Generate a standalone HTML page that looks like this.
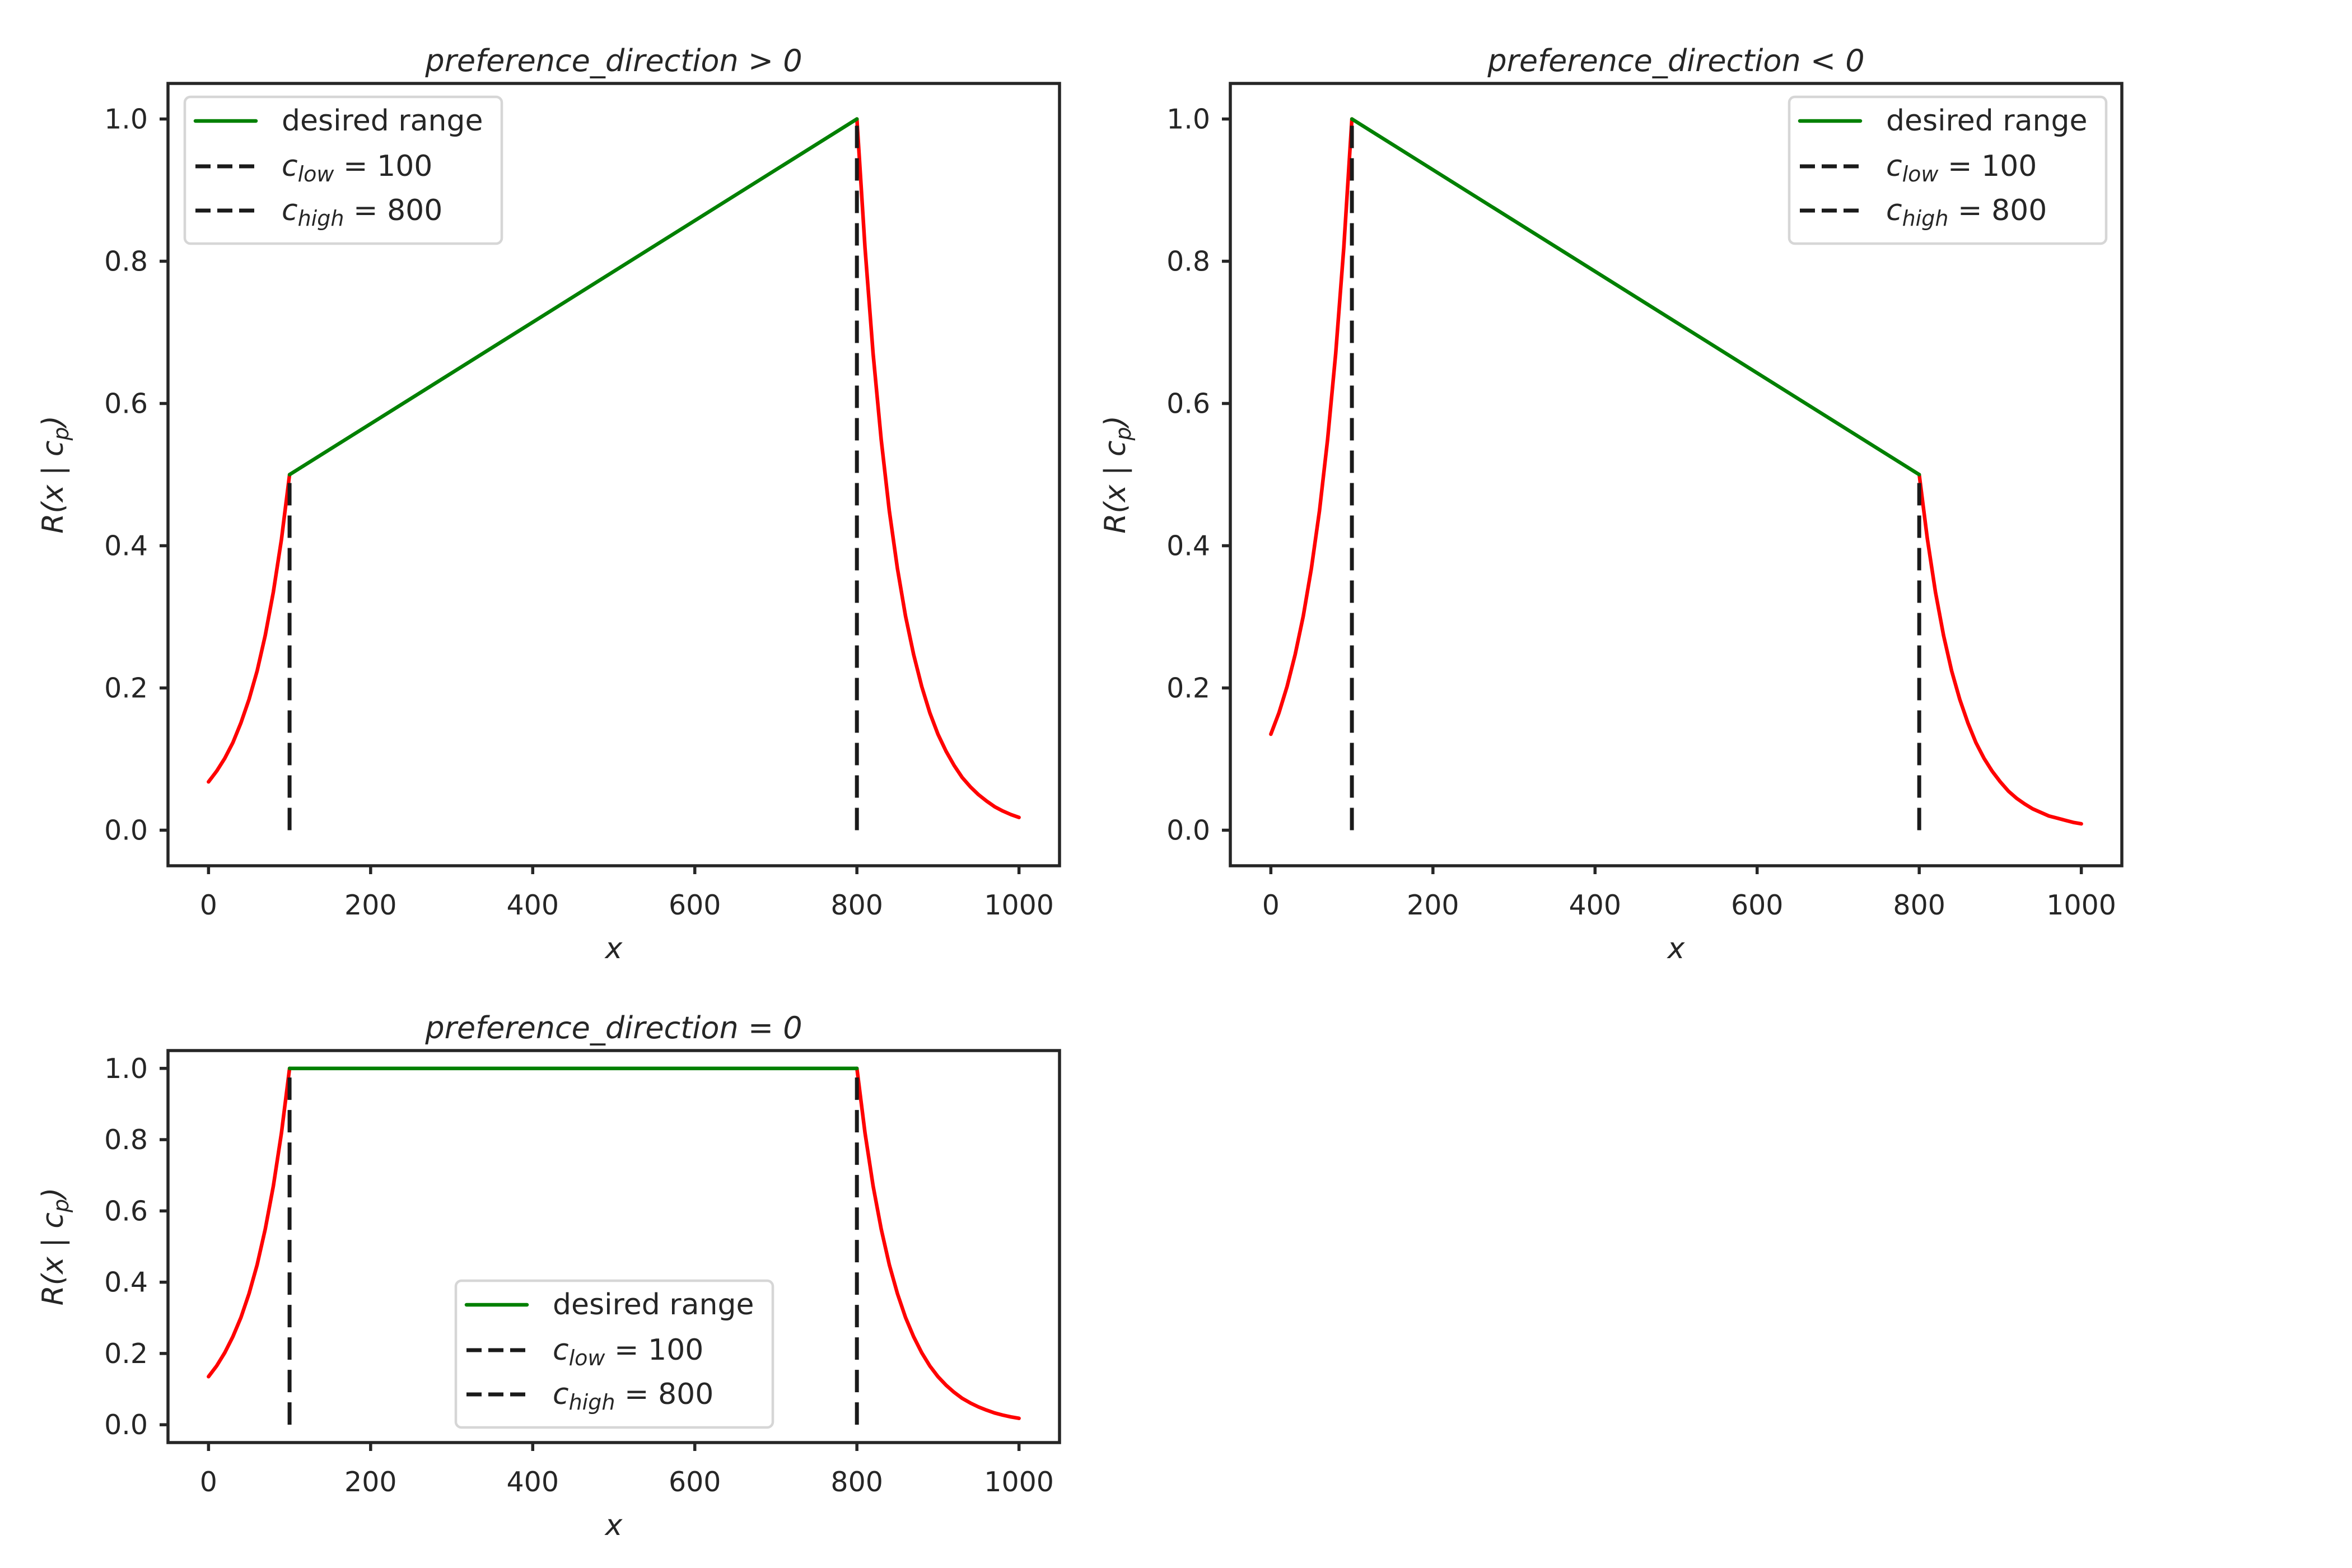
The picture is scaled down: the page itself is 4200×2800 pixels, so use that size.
<!DOCTYPE html>
<html><head><meta charset="utf-8"><style>
html,body{margin:0;padding:0;background:#fff;}
svg{display:block;font-family:"DejaVu Sans","Liberation Sans",sans-serif;}
</style></head><body>
<svg id="chart" width="4200" height="2800" viewBox="0 0 4200 2800" xmlns="http://www.w3.org/2000/svg"></svg>
<script>
const xTicks = [0,200,400,600,800,1000];
const yTicks1 = [0.0,0.2,0.4,0.6,0.8,1.0];
const yTicks3 = [0.0,0.2,0.4,0.6,0.8,1.0];
const leftX = [0,10,20,30,40,50,60,70,80,90,100];
const rightX = [800,810,820,830,840,850,860,870,880,890,900,910,920,930,940,950,960,970,980,990,1000];
const p1Left = [0.068,0.083,0.101,0.123,0.151,0.184,0.224,0.274,0.335,0.409,0.5];
const p1Right = [1,0.819,0.670,0.549,0.449,0.368,0.301,0.247,0.202,0.165,0.135,0.111,0.091,0.074,0.061,0.050,0.041,0.033,0.027,0.022,0.018];
const p2Left = [0.135,0.165,0.202,0.247,0.301,0.368,0.449,0.549,0.670,0.819,1];
const p2Right = [0.5,0.41,0.335,0.274,0.224,0.184,0.151,0.123,0.101,0.083,0.068,0.055,0.045,0.037,0.030,0.025,0.020,0.017,0.014,0.011,0.009];
const p3Left = [0.135,0.165,0.202,0.247,0.301,0.368,0.449,0.549,0.670,0.819,1];
const p3Right = [1,0.819,0.670,0.549,0.449,0.368,0.301,0.247,0.202,0.165,0.135,0.111,0.091,0.074,0.061,0.050,0.041,0.033,0.027,0.022,0.018];
const cLow = 100, cHigh = 800;
const green1 = [0.5,1], green2 = [1,0.5], green3 = [1,1];

const NS='http://www.w3.org/2000/svg';
const svg=document.getElementById('chart');
const TC='#262626';
function mk(tag,attrs,parent){const e=document.createElementNS(NS,tag);for(const k in attrs)e.setAttribute(k,attrs[k]);(parent||svg).appendChild(e);return e;}

function panel(id,L,R,T,B,title,ys,lv,rv,gv,legend,ylabelX){
  const g=mk('g',{});
  
  
  const X=v=>L+(v+50)/1100*(R-L);
  const Y=v=>B-(v+0.05)/1.1*(B-T);
  xTicks.forEach(t=>{
    const l=mk('line',{x1:X(t),x2:X(t),y1:B,y2:B+15,stroke:TC,'stroke-width':5.5},g);
    
    
    const tx=mk('text',{x:X(t),y:B+87,'font-size':49,fill:TC,'text-anchor':'middle'},g);
    
    
    tx.textContent=t;
  });
  ys.forEach(t=>{
    const l=mk('line',{x1:L-15,x2:L,y1:Y(t),y2:Y(t),stroke:TC,'stroke-width':5.5},g);
    
    
    const tx=mk('text',{x:L-36,y:Y(t)+17,'font-size':49,fill:TC,'text-anchor':'end'},g);
    
    
    tx.textContent=t.toFixed(1);
  });
  [[leftX,lv],[rightX,rv]].forEach(([xs,vs])=>{
    const p=mk('polyline',{points:xs.map((x,i)=>X(x)+','+Y(vs[i])).join(' '),fill:'none',stroke:'#ff0000','stroke-width':6.5,'stroke-linecap':'round','stroke-linejoin':'round'},g);
    
    
  });
  const gl=mk('line',{x1:X(cLow),y1:Y(gv[0]),x2:X(cHigh),y2:Y(gv[1]),stroke:'#008000','stroke-width':6.5,'stroke-linecap':'round'},g);
  
  
  const d1=mk('line',{x1:X(cLow),y1:Y(0),x2:X(cLow),y2:Y(gv[0]),stroke:'#1a1a1a','stroke-width':7,'stroke-dasharray':'40 18'},g);
  
  
  const d2=mk('line',{x1:X(cHigh),y1:Y(0),x2:X(cHigh),y2:Y(gv[1]),stroke:'#1a1a1a','stroke-width':7,'stroke-dasharray':'40 18'},g);
  
  
  const fr=mk('rect',{x:L,y:T,width:R-L,height:B-T,fill:'none',stroke:TC,'stroke-width':5.5},g);
  
  
  const ti=mk('text',{x:(L+R)/2,y:T-22,'font-size':54,fill:TC,'text-anchor':'middle','font-style':'italic'},g);
  
  
  ti.textContent=title;
  const xl=mk('text',{x:(L+R)/2,y:B+165,'font-size':52,fill:TC,'text-anchor':'middle','font-style':'italic'},g);
  
  
  xl.textContent='x';
  const cy=(T+B)/2;
  const yl=mk('text',{x:ylabelX,y:cy,'font-size':52,fill:TC,'text-anchor':'middle','font-style':'italic',transform:`rotate(-90 ${ylabelX} ${cy})`},g);
  
  
  yl.innerHTML='R(x | c<tspan font-size="38" dy="10">p</tspan><tspan dy="-10">)</tspan>';
  const [lx,ly]=legend;
  const lg=mk('g',{},g);
  
  
  mk('rect',{x:lx,y:ly,width:566,height:262,rx:10,fill:'#fff','fill-opacity':0.8,stroke:'#d6d6d6','stroke-width':4.5},lg);
  const rows=[ly+43,ly+124,ly+203];
  const e1=mk('line',{x1:lx+19,x2:lx+127,y1:rows[0],y2:rows[0],stroke:'#008000','stroke-width':6.5,'stroke-linecap':'round'},lg);
  
  
  [1,2].forEach(i=>{
    const e=mk('line',{x1:lx+19,x2:lx+127,y1:rows[i],y2:rows[i],stroke:'#1a1a1a','stroke-width':7,'stroke-dasharray':'27 12'},lg);
    
    
  });
  const t1=mk('text',{x:lx+173,y:rows[0]+17,'font-size':52,fill:TC},lg);
  
  
  t1.textContent='desired range';
  const t2=mk('text',{x:lx+173,y:rows[1]+17,'font-size':52,fill:TC},lg);
  
  
  t2.innerHTML='<tspan font-style="italic">c</tspan><tspan font-style="italic" font-size="38" dy="10">low</tspan><tspan dy="-10"> = 100</tspan>';
  const t3=mk('text',{x:lx+173,y:rows[2]+17,'font-size':52,fill:TC},lg);
  
  
  t3.innerHTML='<tspan font-style="italic">c</tspan><tspan font-style="italic" font-size="38" dy="10">high</tspan><tspan dy="-10"> = 800</tspan>';
}
panel('panel-positive',300,1892,149,1546,'preference_direction > 0',yTicks1,p1Left,p1Right,green1,[330,173],112);
panel('panel-negative',2197,3789,149,1546,'preference_direction < 0',yTicks1,p2Left,p2Right,green2,[3195,173],2009);
panel('panel-zero',300,1892,1876,2576,'preference_direction = 0',yTicks3,p3Left,p3Right,green3,[814,2287],112);
</script>
</body></html>
